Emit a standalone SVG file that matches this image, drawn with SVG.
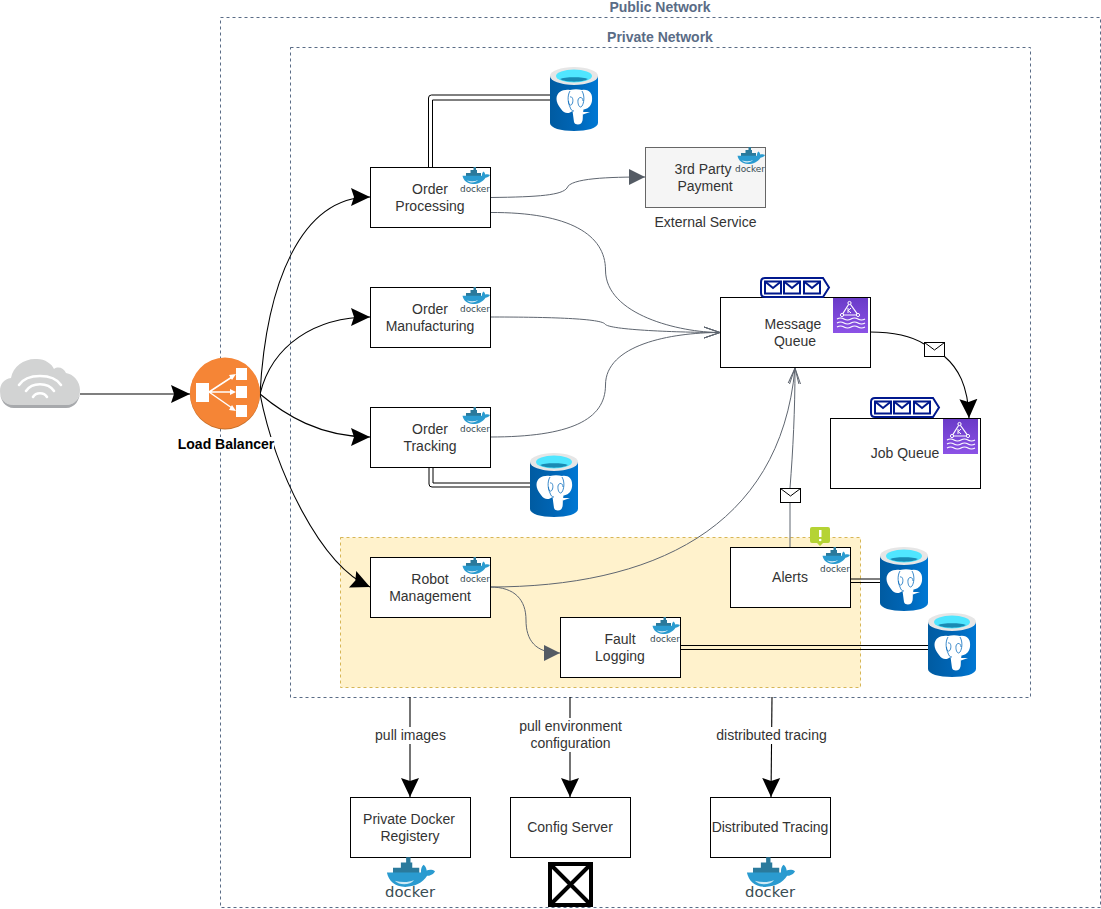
<svg xmlns="http://www.w3.org/2000/svg" width="1101" height="909" viewBox="0 0 1101 909">
<style>
text{font-family:"Liberation Sans",Arial,sans-serif;font-size:14px;fill:#333;text-anchor:middle}
.box{fill:#fff;stroke:#000;stroke-width:1}
.zone{fill:none;stroke:#5a6c86;stroke-width:1;stroke-dasharray:3 3}
.title{font-weight:bold;fill:#5a6c86}
.blk{fill:none;stroke:#000;stroke-width:1.1}
.gry{fill:none;stroke:#5f6670;stroke-width:1}
.dbl{fill:none;stroke:#000;stroke-width:1}
.dock{font-family:"DejaVu Sans",sans-serif;font-size:9.5px;fill:#394d54;text-anchor:start}
.dockb{font-family:"DejaVu Sans",sans-serif;font-size:13.5px;fill:#394d54;text-anchor:start}
.env{fill:#fff;stroke:#000;stroke-width:1}
.navy{fill:none;stroke:#00188d;stroke-width:2}
</style>
<defs>
<marker id="ab" markerUnits="userSpaceOnUse" markerWidth="22" markerHeight="22" refX="19" refY="10" orient="auto"><path d="M0,1 L19,10 L0,19 L3,10Z" fill="#000"/></marker>
<marker id="tg" markerUnits="userSpaceOnUse" markerWidth="18" markerHeight="18" refX="16" refY="8" orient="auto"><path d="M0,0 L16,8 L0,16Z" fill="#545b64"/></marker>
<marker id="og" markerUnits="userSpaceOnUse" markerWidth="18" markerHeight="16" refX="16" refY="7" orient="auto"><path d="M0,1.500 L16,7 L0,12.500" fill="none" stroke="#5f6670" stroke-width="1"/></marker>
<linearGradient id="dbg" x1="0" x2="1" y1="0" y2="0"><stop offset="0" stop-color="#005ba1"/><stop offset=".5" stop-color="#0065b5"/><stop offset="1" stop-color="#0078d4"/></linearGradient>
<linearGradient id="kg" x1="0" x2="0" y1="1" y2="0"><stop offset="0" stop-color="#8c52e6"/><stop offset="1" stop-color="#6a3bc8"/></linearGradient>
<symbol id="pg" viewBox="0 0 48 64" width="48" height="64" overflow="visible">
<path d="M0,9 V56 C0,61 11,64 24,64 C37,64 48,61 48,56 V9Z" fill="url(#dbg)"/>
<ellipse cx="24" cy="9" rx="24" ry="9" fill="#e6e6e6"/>
<ellipse cx="24" cy="9" rx="18" ry="6.5" fill="#50e6ff"/>
<path d="M10,12 C14,9.500 34,9.500 38,12 C33,15.500 15,15.500 10,12Z" fill="#198ab3"/>
<path d="M6.500,32 C6.500,25 13,22 20,23 C24,22 28,22 32,23 C39,22 43,26 42,34 C41,40 37,42 33.500,42.500 L33,46 C32.500,50 33.500,54 31,56.500 C29,58 25,58 24,55 L22.500,44 C19,47 14,47 11,42 C8,38 6.500,35 6.500,32Z" fill="#fff"/>
<path d="M33,45 L40,45 L33,47.500Z" fill="#fff"/>
<path d="M20,24 C17,29 18,36 20,40 C21,43 22,44 24,44 M32,24 C35,29 34,36 32,39 C30,42 27.500,38 28,33 C29,29 33,30 33,34 M20,30 C22.500,29 23.500,33 22.500,36 C21,40 18.500,38 18.500,34" fill="none" stroke="#0a6cbd" stroke-width=".8"/>
</symbol>
<symbol id="whale" viewBox="0 0 28 17" overflow="visible">
<path d="M4,6 H19 V9 H4Z M8.500,3 H15 V6 H8.500Z M11.500,0 H14 V3 H11.500Z" fill="#2a7a9c"/>
<path d="M0.500,8.800 H20 C19.800,6.800 20.500,5 21.500,4.400 C22.600,5.400 23.200,6.600 23.200,7.600 C24.600,7 26.600,7 28,8 C27,10 25,10.600 23.500,10.700 C21,14.800 16,17 11,17 C5,17 1.500,13.500 0.500,8.800Z" fill="#2a9bd0"/>
<path d="M5,13.500 C9,14.500 13,14.500 16,13 C14,16 8,16.500 5,13.500Z" fill="#cfe9f4"/>
</symbol>
<symbol id="kafka" viewBox="0 0 35 35" overflow="visible">
<rect width="35" height="35" fill="url(#kg)"/>
<g fill="none" stroke="#fff" stroke-width="1.200">
<path d="M16.500,5 L9,17 H25Z"/>
<path d="M4,21 q3.500,-2 7,0 t7,0 t7,0 t7,0 M4,25 q3.500,-2 7,0 t7,0 t7,0 t7,0 M4,29 q3.500,-2 7,0 t7,0 t7,0 t7,0"/>
</g>
<g fill="#7b44d8" stroke="#fff"><circle cx="16.500" cy="5" r="1.600"/><circle cx="9" cy="17" r="1.600"/><circle cx="25" cy="17" r="1.600"/></g>
<path d="M15,10 V15 M15,12.800 L18,10 M15,12.300 L18,15" fill="none" stroke="#fff"/>
</symbol>
<symbol id="queue" viewBox="0 0 70 21" overflow="visible">
<path class="navy" d="M5,1 H63 L69,10.500 L63,20 H5 Q1,20 1,16 V5 Q1,1 5,1Z"/>
<g class="navy"><rect x="5" y="4.500" width="16" height="12"/><path d="M5,4.500 L13,11 L21,4.500"/><rect x="24" y="4.500" width="16" height="12"/><path d="M24,4.500 L32,11 L40,4.500"/><rect x="44" y="4.500" width="16" height="12"/><path d="M44,4.500 L52,11 L60,4.500"/></g>
</symbol>
<symbol id="mail" viewBox="0 0 21 15" overflow="visible">
<rect class="env" x=".5" y=".5" width="20" height="14"/><path class="env" d="M.5,.5 L10.500,8 L20.500,.5" style="fill:none"/>
</symbol>
</defs>

<g id="zones">
<rect class="zone" x="220.500" y="17.500" width="880" height="890"/>
<rect class="zone" x="290.500" y="47.500" width="740" height="650"/>
<rect x="340.500" y="537.500" width="520" height="150" fill="#fff2cc" stroke="#d6b656" stroke-dasharray="3 3"/>
<text class="title" x="660" y="12">Public Network</text>
<text class="title" x="660" y="42">Private Network</text>
</g>

<g id="connectors">
<path class="blk" marker-end="url(#ab)" d="M80,394 H190"/>
<path class="blk" marker-end="url(#ab)" d="M260,394 C266,285 300,197 370,197"/>
<path class="blk" marker-end="url(#ab)" d="M260,394 C272,345 315,317 370,317"/>
<path class="blk" marker-end="url(#ab)" d="M260,394 C285,415 320,437 370,437"/>
<path class="blk" marker-end="url(#ab)" d="M260,394 C275,470 320,565 370,587"/>
<path class="dbl" d="M428.500,167 V98 Q428.500,95 431.500,95 H550 M432.500,167 V100 H550"/>
<path class="dbl" d="M429,467 V484 Q429,487 432,487 H530 M433,467 V483 H530"/>
<path class="dbl" d="M851,579 H880 M851,582.500 H880"/>
<path class="dbl" d="M681,645.500 H932 M681,649.500 H932"/>
<path class="gry" marker-end="url(#tg)" d="M490,197.500 C540,197 562,195 567,188 C570,178 610,177 645,177"/>
<path class="gry" marker-end="url(#og)" d="M490,212.500 C570,212 605.500,235 605.500,270 C605.500,315 680,332.500 720,332.500"/>
<path class="gry" marker-end="url(#og)" d="M490,317 C540,317 600,318 605,324 C608,330 680,332.500 720,332.500"/>
<path class="gry" marker-end="url(#og)" d="M490,437 C570,437 605.500,420 605.500,385 C605.500,345 670,332.500 720,332.500"/>
<path class="gry" marker-end="url(#og)" d="M490,587 C650,587 780,530 795,368"/>
<path class="gry" marker-end="url(#og)" d="M790,547 V502 M790,488 C793,450 795,410 795,368"/>
<path class="gry" marker-end="url(#tg)" d="M490,587 C515,587 526,600 526,620 C526,640 535,653 560,653"/>
<path class="blk" d="M870,332 C890,332 910,335 924,344"/>
<path class="blk" marker-end="url(#ab)" d="M944,356 C958,368 968,385 969,418"/>
<use href="#mail" x="924" y="342" width="21" height="15"/>
<use href="#mail" x="780" y="488" width="21" height="15"/>
<path class="blk" marker-end="url(#ab)" d="M410,697 V797"/>
<path class="blk" marker-end="url(#ab)" d="M570,697 V797"/>
<path class="blk" marker-end="url(#ab)" d="M772,697 L771,797"/>
</g>

<g id="edge-labels">
<rect x="372" y="727" width="77" height="17" fill="#fff"/><text x="410.500" y="740">pull images</text>
<rect x="517" y="718" width="107" height="34" fill="#fff"/><text x="570.500" y="731">pull environment</text><text x="570.500" y="748">configuration</text>
<rect x="713" y="727" width="117" height="17" fill="#fff"/><text x="771.500" y="740">distributed tracing</text>
</g>

<g id="internet">
<path d="M14,405 C4,405 0,398 0,391 C0,384 4,379 11,378 C13,366 25,358 37,359 C45,359 52,364 54,369 C58,366 64,368 66,373 C73,374 80,381 80,390 C80,399 74,405 66,405Z" fill="#d2d3d3"/>
<path d="M0,391 C0,400 5,408 14,408 H66 C75,408 80,400 80,391 C80,399 74,405 66,405 H14 C5,405 0,399 0,391Z" fill="#a7a9ac"/>
<g fill="none" stroke="#fff" stroke-width="2.600" stroke-linecap="round"><path d="M19,385 C27,373 53,373 61,385"/><path d="M26,391 C32,382 48,382 54,391"/><path d="M33,397 C36,392 44,392 47,397"/></g>
</g>

<g id="load-balancer">
<ellipse cx="225" cy="394" rx="35" ry="35.500" fill="#c8702a"/>
<ellipse cx="225" cy="393" rx="35" ry="35.500" fill="#f58536"/>
<g fill="#fff"><rect x="196" y="383" width="13" height="19"/><rect x="236" y="368" width="11" height="12"/><rect x="236" y="386" width="11" height="12"/><rect x="236" y="405" width="11" height="12"/>
<path d="M209,392 L232,377 M209,392 H232 M209,392 L232,408" stroke="#fff" stroke-width="1.500"/>
<path d="M236,374 L229,375 L232,380Z M236,392 L230,389 V395Z M236,411 L232,405 L229,410Z"/></g>
<rect x="178" y="437" width="96" height="15" fill="#fff"/>
<text x="226" y="449" style="font-weight:bold;fill:#000">Load Balancer</text>
</g>

<g id="order-processing"><rect class="box" x="370.500" y="167.500" width="120" height="60"/><text x="430" y="194">Order</text><text x="430" y="211">Processing</text><use href="#whale" x="462" y="167" width="28" height="17"/><text class="dock" x="460" y="192" textLength="30" lengthAdjust="spacingAndGlyphs">docker</text></g>
<g id="order-manufacturing"><rect class="box" x="370.500" y="287.500" width="120" height="60"/><text x="430" y="314">Order</text><text x="430" y="331">Manufacturing</text><use href="#whale" x="462" y="287" width="28" height="17"/><text class="dock" x="460" y="312" textLength="30" lengthAdjust="spacingAndGlyphs">docker</text></g>
<g id="order-tracking"><rect class="box" x="370.500" y="407.500" width="120" height="60"/><text x="430" y="434">Order</text><text x="430" y="451">Tracking</text><use href="#whale" x="462" y="407" width="28" height="17"/><text class="dock" x="460" y="432" textLength="30" lengthAdjust="spacingAndGlyphs">docker</text></g>
<g id="robot-management"><rect class="box" x="370.500" y="557.500" width="120" height="60"/><text x="430" y="584">Robot</text><text x="430" y="601">Management</text><use href="#whale" x="462" y="557" width="28" height="17"/><text class="dock" x="460" y="582" textLength="30" lengthAdjust="spacingAndGlyphs">docker</text></g>
<g id="fault-logging"><rect class="box" x="560.500" y="617.500" width="120" height="60"/><text x="620" y="644">Fault</text><text x="620" y="661">Logging</text><use href="#whale" x="652" y="617" width="28" height="17"/><text class="dock" x="650" y="642" textLength="30" lengthAdjust="spacingAndGlyphs">docker</text></g>
<g id="alerts"><rect class="box" x="730.500" y="547.500" width="120" height="60"/><text x="790" y="582">Alerts</text><use href="#whale" x="822" y="547" width="28" height="17"/><text class="dock" x="820" y="572" textLength="30" lengthAdjust="spacingAndGlyphs">docker</text>
<path d="M812,527 H828 Q830,527 830,529 V541 Q830,543 828,543 H823 L820,546 L817,543 H812 Q810,543 810,541 V529 Q810,527 812,527Z" fill="#b5d334"/><rect x="819" y="530" width="2.500" height="7" fill="#fff"/><circle cx="820.200" cy="540" r="1.300" fill="#fff"/></g>
<g id="third-party"><rect x="645.500" y="147.500" width="120" height="60" fill="#f5f5f5" stroke="#666"/><text x="703" y="174">3rd Party</text><text x="705" y="191">Payment</text><use href="#whale" x="737" y="147" width="28" height="17"/><text class="dock" x="735" y="172" textLength="30" lengthAdjust="spacingAndGlyphs">docker</text><text x="705.500" y="227">External Service</text></g>
<g id="message-queue"><rect class="box" x="720.500" y="297.500" width="150" height="70"/><text x="793" y="329">Message</text><text x="795" y="346">Queue</text><use href="#queue" x="760" y="277" width="70" height="21"/><use href="#kafka" x="833" y="298" width="35" height="35"/></g>
<g id="job-queue"><rect class="box" x="830.500" y="418.500" width="150" height="70"/><text x="905" y="458">Job Queue</text><use href="#queue" x="870" y="397" width="70" height="21"/><use href="#kafka" x="943" y="419" width="35" height="35"/></g>
<g id="docker-registry"><rect class="box" x="350.500" y="797.500" width="120" height="60"/><text x="409" y="824">Private Docker</text><text x="410" y="841">Registery</text><use href="#whale" x="386" y="857" width="49" height="30"/><text class="dockb" x="385" y="897" textLength="50" lengthAdjust="spacingAndGlyphs">docker</text></g>
<g id="config-server"><rect class="box" x="510.500" y="797.500" width="120" height="60"/><text x="570" y="832">Config Server</text><rect x="550" y="864" width="41" height="41" fill="#fff" stroke="#000" stroke-width="4"/><path d="M550,864 L591,905 M591,864 L550,905" stroke="#000" stroke-width="4"/></g>
<g id="distributed-tracing"><rect class="box" x="710.500" y="797.500" width="120" height="60"/><text x="770" y="832">Distributed Tracing</text><use href="#whale" x="746" y="857" width="49" height="30"/><text class="dockb" x="745" y="897" textLength="50" lengthAdjust="spacingAndGlyphs">docker</text></g>
<g id="db-order"><use href="#pg" x="550" y="67" width="48" height="64"/></g>
<g id="db-tracking"><use href="#pg" x="530" y="453" width="48" height="64"/></g>
<g id="db-alerts"><use href="#pg" x="880" y="547" width="48" height="64"/></g>
<g id="db-fault"><use href="#pg" x="928" y="613" width="48" height="64"/></g>
</svg>
